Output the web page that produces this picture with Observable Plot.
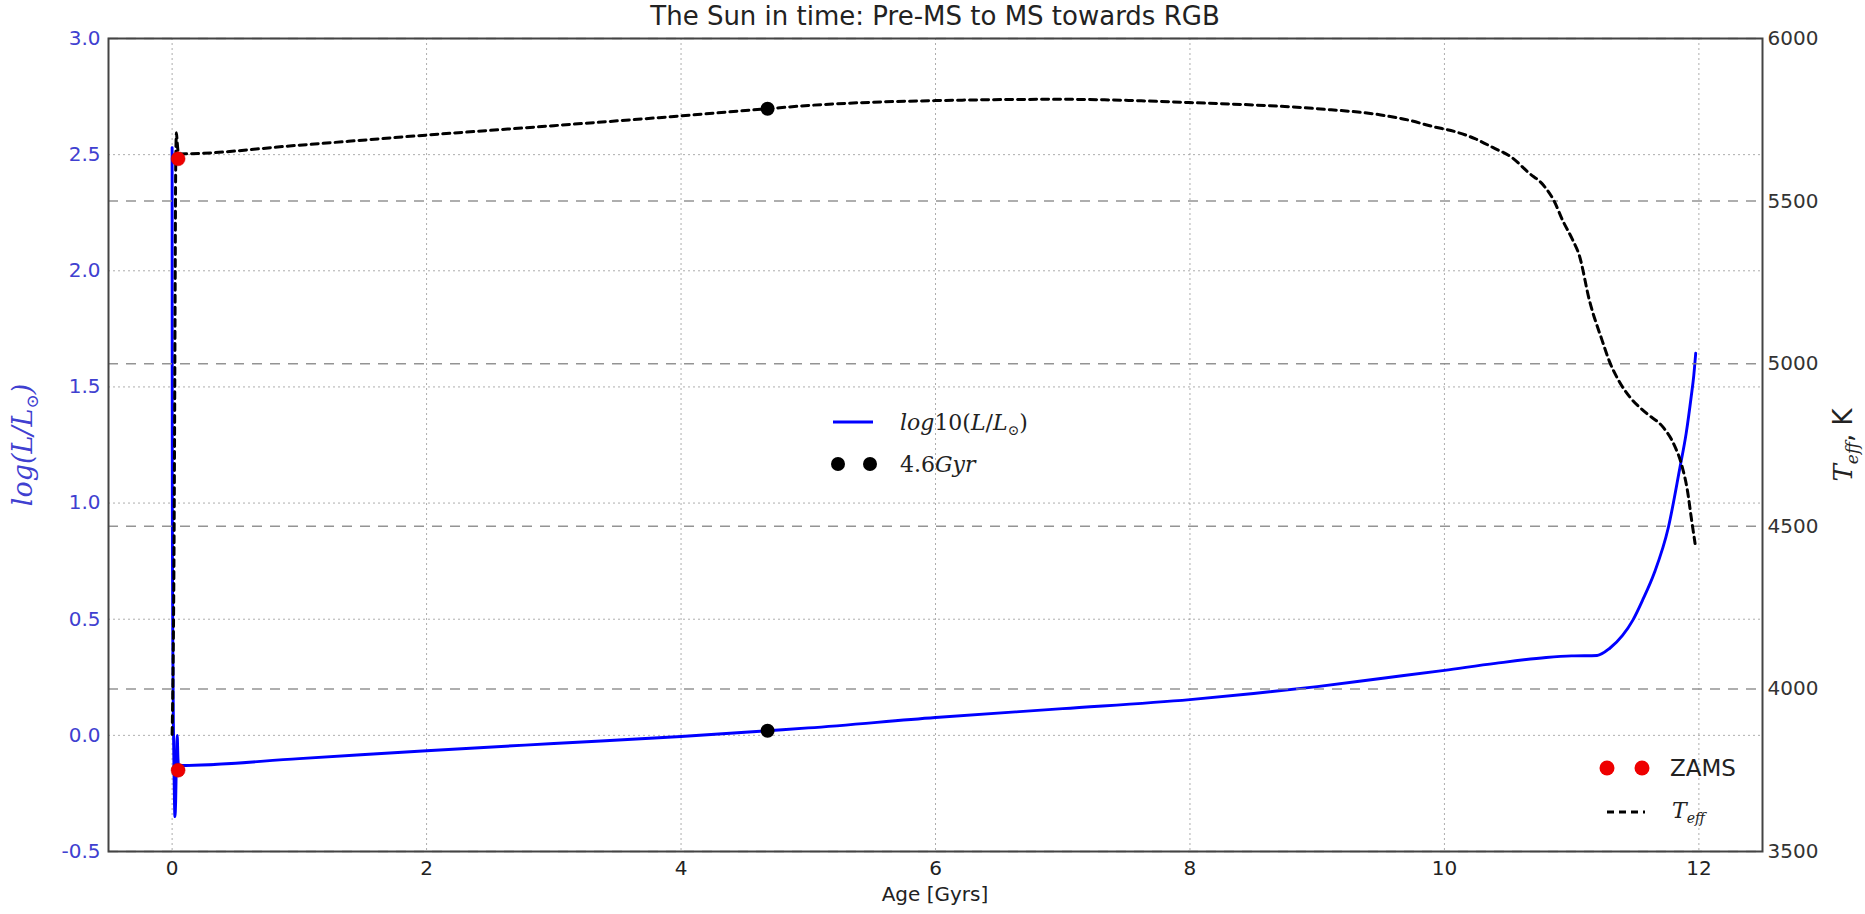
<!DOCTYPE html>
<html><head><meta charset="utf-8">
<script src="https://cdn.jsdelivr.net/npm/d3@7"></script>
<script src="https://cdn.jsdelivr.net/npm/@observablehq/plot@0.6"></script>
<style>
html,body{margin:0;padding:0;background:#fff;overflow:hidden}
#chart{position:relative;width:1865px;height:914px}
</style></head><body><div id="chart"></div>
<script>
// ---- data ----
const ageL = [0.000,0.0003,0.0008,0.0015,0.003,0.006,0.010,0.016,0.022,0.028,0.034,0.040,0.046,0.050,1,2,3,4,4.68,5,6,7,8,8.5,9,9.5,10,10.4,10.8,11.0,11.2,11.3,11.4,11.48,11.56,11.65,11.76,11.85,11.9,11.94,11.96,11.975];
const logL = [2.53,2.0,1.5,1.1,0.7,0.35,0.05,-0.20,-0.35,-0.28,-0.10,0.00,-0.10,-0.13,-0.10,-0.066,-0.035,-0.005,0.02,0.032,0.077,0.115,0.154,0.18,0.21,0.245,0.28,0.31,0.335,0.342,0.344,0.375,0.43,0.495,0.585,0.70,0.895,1.15,1.30,1.46,1.55,1.645];
const ageT = [0.000,0.002,0.005,0.008,0.012,0.016,0.020,0.024,0.028,0.034,0.040,0.046,0.050,1,2,3,4,4.68,5,6,7,8,9,9.5,9.73,9.91,10.08,10.24,10.38,10.53,10.66,10.78,10.86,10.93,11.01,11.06,11.14,11.24,11.30,11.37,11.46,11.59,11.72,11.80,11.87,11.91,11.94,11.97];
const teff = [3860,3900,3980,4080,4250,4500,4850,5250,5600,5710,5680,5655,5645,5672,5703,5732,5762,5784,5794,5809,5813,5803,5784,5765,5748,5729,5714,5692,5665,5634,5588,5548,5502,5440,5379,5333,5194,5071,5004,4948,4896,4847,4804,4755,4681,4610,4527,4447];
const zamsAge = [0.047], zamsLogL = [-0.15], zamsTeff = [5630];
const sunAge = [4.68], sunLogL = [0.02], sunTeff = [5784];
const xTicks = [0,2,4,6,8,10,12];
const yLeftTicks = [-0.5,0.0,0.5,1.0,1.5,2.0,2.5,3.0];
const yRightTicks = [3500,4000,4500,5000,5500,6000];
const titleText = "The Sun in time: Pre-MS to MS towards RGB";
const xLabel = "Age [Gyrs]";

// ---- twin-axis mapping ----
const L0 = -0.5, L1 = 3.0, T0 = 3500, T1 = 6000;
const t2l = t => L0 + (t - T0) / (T1 - T0) * (L1 - L0);
const l2t = l => T0 + (l - L0) / (L1 - L0) * (T1 - T0);

const lumData = ageL.map((a, i) => ({age: a, v: logL[i]}));
const teffData = ageT.map((a, i) => ({age: a, v: t2l(teff[i])}));
const zamsL = zamsAge.map((a, i) => ({age: a, v: zamsLogL[i]}));
const zamsT = zamsAge.map((a, i) => ({age: a, v: t2l(zamsTeff[i])}));
const sunL = sunAge.map((a, i) => ({age: a, v: sunLogL[i]}));
const sunT = sunAge.map((a, i) => ({age: a, v: t2l(sunTeff[i])}));

const W = 1865, H = 914;
const blueTick = "#4040d0";

const plot = Plot.plot({
  width: W, height: H,
  marginLeft: 108, marginRight: 103, marginTop: 38, marginBottom: 63,
  style: {fontFamily: "DejaVu Sans", fontSize: "20px", background: "#fff", overflow: "visible"},
  x: {domain: [-0.5, 12.5]},
  y: {domain: [L0, L1]},
  marks: [
    Plot.gridX(xTicks, {stroke: "#999", strokeOpacity: 0.8, strokeDasharray: "2,3", strokeWidth: 1}),
    Plot.gridY(yLeftTicks, {stroke: "#999", strokeOpacity: 0.8, strokeDasharray: "2,3", strokeWidth: 1}),
    Plot.line(lumData, {x: "age", y: "v", stroke: "#0000ff", strokeWidth: 2.9, curve: "monotone-x"}),
    Plot.dot(zamsL, {x: "age", y: "v", r: 7, fill: "#ee0000", stroke: "#cc0000", strokeWidth: 0.5}),
    Plot.dot(sunL, {x: "age", y: "v", r: 7, fill: "#000"}),
    Plot.gridY(yRightTicks.map(t2l), {stroke: "#888", strokeOpacity: 0.9, strokeDasharray: "10,8", strokeWidth: 1.5}),
    Plot.line(teffData, {x: "age", y: "v", stroke: "#000", strokeWidth: 3, strokeDasharray: "7,5", curve: "monotone-x"}),
    Plot.dot(zamsT, {x: "age", y: "v", r: 7, fill: "#ee0000", stroke: "#cc0000", strokeWidth: 0.5}),
    Plot.dot(sunT, {x: "age", y: "v", r: 7, fill: "#000"}),
    Plot.frame({stroke: "#444", strokeWidth: 2}),
    Plot.axisX(xTicks, {tickSize: 0, tickPadding: 9, tickFormat: d => String(d), fill: "#222", label: null}),
    Plot.axisY(yLeftTicks, {anchor: "left", tickSize: 0, tickPadding: 8, tickFormat: d => d.toFixed(1), fill: blueTick, label: null}),
    Plot.axisY(yRightTicks.map(t2l), {anchor: "right", tickSize: 0, tickPadding: 5, tickFormat: d => String(Math.round(l2t(d))), fill: "#333", label: null})
  ]
});
document.getElementById("chart").appendChild(plot);

// ---- title, axis labels and legends ----
const svg = d3.select(plot);
svg.append("text").attr("x", 935).attr("y", 25).attr("text-anchor", "middle")
  .attr("font-family", "DejaVu Sans").attr("font-size", 26).attr("fill", "#222").text(titleText);
svg.append("text").attr("x", 935).attr("y", 901).attr("text-anchor", "middle")
  .attr("font-family", "DejaVu Sans").attr("font-size", 20).attr("fill", "#222").text(xLabel);

// left y label: log(L/L⊙)
const yl = svg.append("text").attr("transform", "translate(32,445) rotate(-90)")
  .attr("text-anchor", "middle").attr("font-family", "DejaVu Serif").attr("font-style", "italic")
  .attr("font-size", 27).attr("fill", blueTick);
yl.append("tspan").text("log(L/L");
yl.append("tspan").attr("font-size", 17).attr("dy", 6).attr("font-style", "normal").text("⊙");
yl.append("tspan").attr("dy", -6).text(")");

// right y label: T_eff, K
const yr = svg.append("text").attr("transform", "translate(1852,445) rotate(-90)")
  .attr("text-anchor", "middle").attr("font-size", 26).attr("fill", "#222");
yr.append("tspan").attr("font-family", "DejaVu Serif").attr("font-style", "italic").text("T");
yr.append("tspan").attr("font-family", "DejaVu Serif").attr("font-style", "italic").attr("font-size", 17).attr("dy", 6).text("eff");
yr.append("tspan").attr("font-family", "DejaVu Sans").attr("dy", -6).text(", K");

// middle legend
const lg1 = svg.append("g").attr("text-anchor", "start");
lg1.append("line").attr("x1", 833).attr("x2", 873).attr("y1", 422).attr("y2", 422)
  .attr("stroke", "#0000ff").attr("stroke-width", 2.9);
const t1 = lg1.append("text").attr("x", 900).attr("y", 430).attr("text-anchor", "start")
  .attr("font-family", "DejaVu Serif").attr("font-size", 22).attr("fill", "#222");
t1.append("tspan").attr("font-style", "italic").text("log");
t1.append("tspan").text("10(");
t1.append("tspan").attr("font-style", "italic").text("L");
t1.append("tspan").text("/");
t1.append("tspan").attr("font-style", "italic").text("L");
t1.append("tspan").attr("font-size", 14).attr("dy", 5).text("⊙");
t1.append("tspan").attr("dy", -5).text(")");
lg1.append("circle").attr("cx", 838).attr("cy", 464).attr("r", 7).attr("fill", "#000");
lg1.append("circle").attr("cx", 870).attr("cy", 464).attr("r", 7).attr("fill", "#000");
const t2 = lg1.append("text").attr("x", 900).attr("y", 472).attr("text-anchor", "start")
  .attr("font-family", "DejaVu Serif").attr("font-size", 22).attr("fill", "#222");
t2.append("tspan").text("4.6");
t2.append("tspan").attr("font-style", "italic").text("Gyr");

// bottom-right legend
const lg2 = svg.append("g").attr("text-anchor", "start");
lg2.append("circle").attr("cx", 1607).attr("cy", 768).attr("r", 7.5).attr("fill", "#ee0000");
lg2.append("circle").attr("cx", 1642).attr("cy", 768).attr("r", 7.5).attr("fill", "#ee0000");
lg2.append("text").attr("x", 1670).attr("y", 776).attr("text-anchor", "start")
  .attr("font-family", "DejaVu Sans").attr("font-size", 23).attr("fill", "#222").text("ZAMS");
lg2.append("line").attr("x1", 1607).attr("x2", 1645).attr("y1", 812).attr("y2", 812)
  .attr("stroke", "#000").attr("stroke-width", 3).attr("stroke-dasharray", "7,5");
const t3 = lg2.append("text").attr("x", 1672).attr("y", 818).attr("text-anchor", "start")
  .attr("font-family", "DejaVu Serif").attr("font-style", "italic").attr("font-size", 22).attr("fill", "#222");
t3.append("tspan").text("T");
t3.append("tspan").attr("font-size", 14).attr("dy", 5).text("eff");
</script></body></html>
